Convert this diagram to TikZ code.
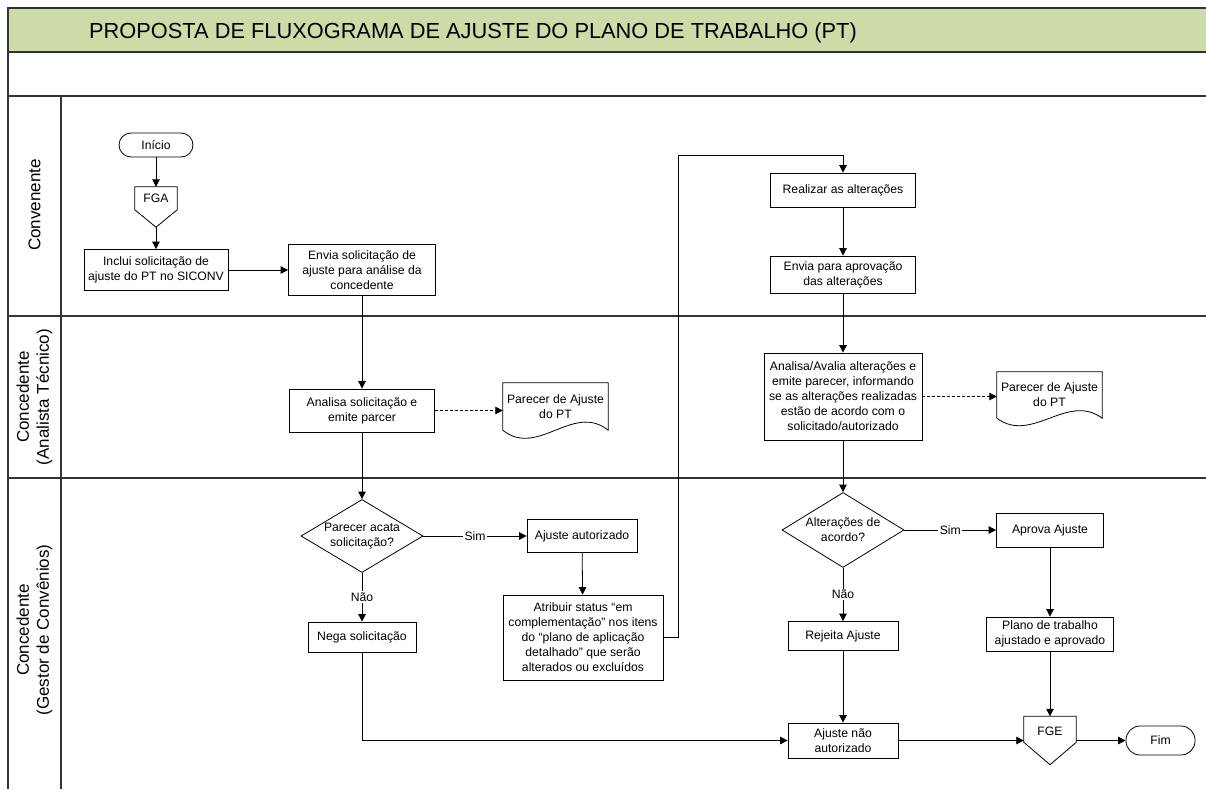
\documentclass[tikz,border=0pt]{standalone}
\usepackage{fontspec}
\setmainfont{Liberation Sans}
\usetikzlibrary{arrows.meta,shapes.geometric,calc}
\definecolor{titlegreen}{HTML}{CDDBA8}
\definecolor{laneline}{HTML}{333333}
\begin{document}
\begin{tikzpicture}[x=1pt,y=-1pt,
  every node/.style={font=\fontsize{12.2}{15}\selectfont, inner sep=0pt},
  proc/.style={draw, line width=0.8pt, rectangle, align=center},
  term/.style={draw, line width=0.8pt, rectangle, rounded corners=12pt, align=center},
  decision/.style={draw, line width=0.8pt, diamond, aspect=1.68, align=center,
                   minimum width=122, minimum height=73},
  docnode/.style={rectangle, align=center, minimum width=105},
  offpage/.style={rectangle, align=center},
  outline/.style={line width=0.8pt},
  flow/.style={line width=0.8pt, -{Triangle[length=7.5pt,width=7.5pt]}},
  docflow/.style={flow, dash pattern=on 3pt off 2pt},
  answer/.style={fill=white, inner sep=1.5pt},
  lanelabel/.style={rotate=90, align=center, font=\fontsize{17}{20}\selectfont},
  lane/.style={draw=laneline, line width=1.4pt},
]
\useasboundingbox (0,0) rectangle (1206,789);

% swimlane frame
\fill[titlegreen] (8,8) rectangle (1206,52);
\draw[lane] (1206,8) -- (8,8) -- (8,789);
\draw[lane] (8,52) -- (1206,52);
\draw[lane] (8,96) -- (1206,96);
\draw[lane] (8,316) -- (1206,316);
\draw[lane] (8,478) -- (1206,478);
\draw[lane] (61,96) -- (61,789);

\node[anchor=west, font=\fontsize{21.8}{24}\selectfont] (title) at (89,33)
  {PROPOSTA DE FLUXOGRAMA DE AJUSTE DO PLANO DE TRABALHO (PT)};

\node[lanelabel] (lane1) at (34.5,205) {Convenente};
\node[lanelabel] (lane2) at (34.5,397) {Concedente\\(Analista Técnico)};
\node[lanelabel] (lane3) at (34.5,630) {Concedente\\(Gestor de Convênios)};

% left column
\node[term, minimum width=74, minimum height=24] (inicio) at (156,145) {Início};
\node[offpage, minimum width=42, text height=15.3pt, text depth=24.7pt] (fga) at (156,207) {FGA};
\draw[outline] (fga.north west) -- (fga.north east) -- ([yshift=-23pt]fga.north east)
  -- (fga.south) -- ([yshift=-23pt]fga.north west) -- cycle;
\node[proc, minimum width=144, minimum height=41] (inclui) at (156,270)
  {Inclui solicitação de\\ajuste do PT no SICONV};
\node[proc, minimum width=147, minimum height=51] (envia) at (362,270)
  {Envia solicitação de\\ajuste para análise da\\concedente};
\node[proc, minimum width=145, minimum height=43] (analisa) at (362,410.5)
  {Analisa solicitação e\\emite parcer};
\node[docnode, minimum height=47] (doc1) at (555.5,406.5) {Parecer de Ajuste\\do PT};
\draw[outline] (doc1.south west) -- (doc1.north west) -- (doc1.north east) -- (doc1.south east)
  .. controls ($(doc1.south east)+(-35,-28)$) and ($(doc1.south west)+(35,28)$) .. (doc1.south west);
\node[decision] (dec1) at (362,536) {Parecer acata\\solicitação?};
\node[proc, minimum width=110, minimum height=33] (ajaut) at (582,536) {Ajuste autorizado};
\node[proc, minimum width=160, minimum height=85] (atrib) at (583,637.5)
  {Atribuir status “em\\complementação” nos itens\\do “plano de aplicação\\detalhado” que serão\\alterados ou excluídos};
\node[proc, minimum width=108, minimum height=30] (nega) at (362,637) {Nega solicitação};

% right column
\node[proc, minimum width=145, minimum height=34] (realizar) at (843,190) {Realizar as alterações};
\node[proc, minimum width=145, minimum height=37] (enviaapr) at (843,274.5)
  {Envia para aprovação\\das alterações};
\node[proc, minimum width=158, minimum height=87] (avalia) at (843,396.5)
  {Analisa/Avalia alterações e\\emite parecer, informando\\se as alterações realizadas\\estão de acordo com o\\solicitado/autorizado};
\node[docnode, minimum height=46] (doc2) at (1049.5,395) {Parecer de Ajuste\\do PT};
\draw[outline] (doc2.south west) -- (doc2.north west) -- (doc2.north east) -- (doc2.south east)
  .. controls ($(doc2.south east)+(-35,-26)$) and ($(doc2.south west)+(35,26)$) .. (doc2.south west);
\node[decision, minimum height=75] (dec2) at (843,530) {Alterações de\\acordo?};
\node[proc, minimum width=107, minimum height=34] (aprova) at (1050,530) {Aprova Ajuste};
\node[proc, minimum width=110, minimum height=29] (rejeita) at (843,636) {Rejeita Ajuste};
\node[proc, minimum width=127, minimum height=34] (plano) at (1050,634)
  {Plano de trabalho\\ajustado e aprovado};
\node[proc, minimum width=110, minimum height=35] (naoaut) at (843,740.5) {Ajuste não\\autorizado};
\node[offpage, minimum width=52, text height=19.3pt, text depth=28.7pt] (fge) at (1050,740.5) {FGE};
\draw[outline] (fge.north west) -- (fge.north east) -- ([yshift=-26pt]fge.north east)
  -- (fge.south) -- ([yshift=-26pt]fge.north west) -- cycle;
\node[term, rounded corners=14pt, minimum width=69, minimum height=29] (fim) at (1160.5,740.5) {Fim};

% connectors
\draw[flow] (inicio) -- (fga);
\draw[flow] (fga) -- (inclui);
\draw[flow] (inclui) -- (envia);
\draw[flow] (envia) -- (analisa);
\draw[docflow] (analisa.east) -- (analisa.east -| doc1.west);
\draw[flow] (analisa) -- (dec1);
\draw[flow] (dec1) -- node[answer] {Sim} (ajaut);
\draw[flow] (dec1) -- node[answer] {Não} (nega);
\draw[flow] (ajaut) -- (atrib);
\draw[flow] (atrib.east) -- ++(15,0) |- ([yshift=17pt]realizar.north) -- (realizar.north);
\draw[flow] (nega) |- (naoaut);
\draw[flow] (realizar) -- (enviaapr);
\draw[flow] (enviaapr) -- (avalia);
\draw[docflow] (avalia.east) -- (avalia.east -| doc2.west);
\draw[flow] (avalia) -- (dec2);
\draw[flow] (dec2) -- node[answer] {Sim} (aprova);
\draw[flow] (dec2) -- node[answer] {Não} (rejeita);
\draw[flow] (aprova) -- (plano);
\draw[flow] (plano) -- (fge);
\draw[flow] (rejeita) -- (naoaut);
\draw[flow] (naoaut) -- (fge);
\draw[flow] (fge) -- (fim);
\end{tikzpicture}
\end{document}
